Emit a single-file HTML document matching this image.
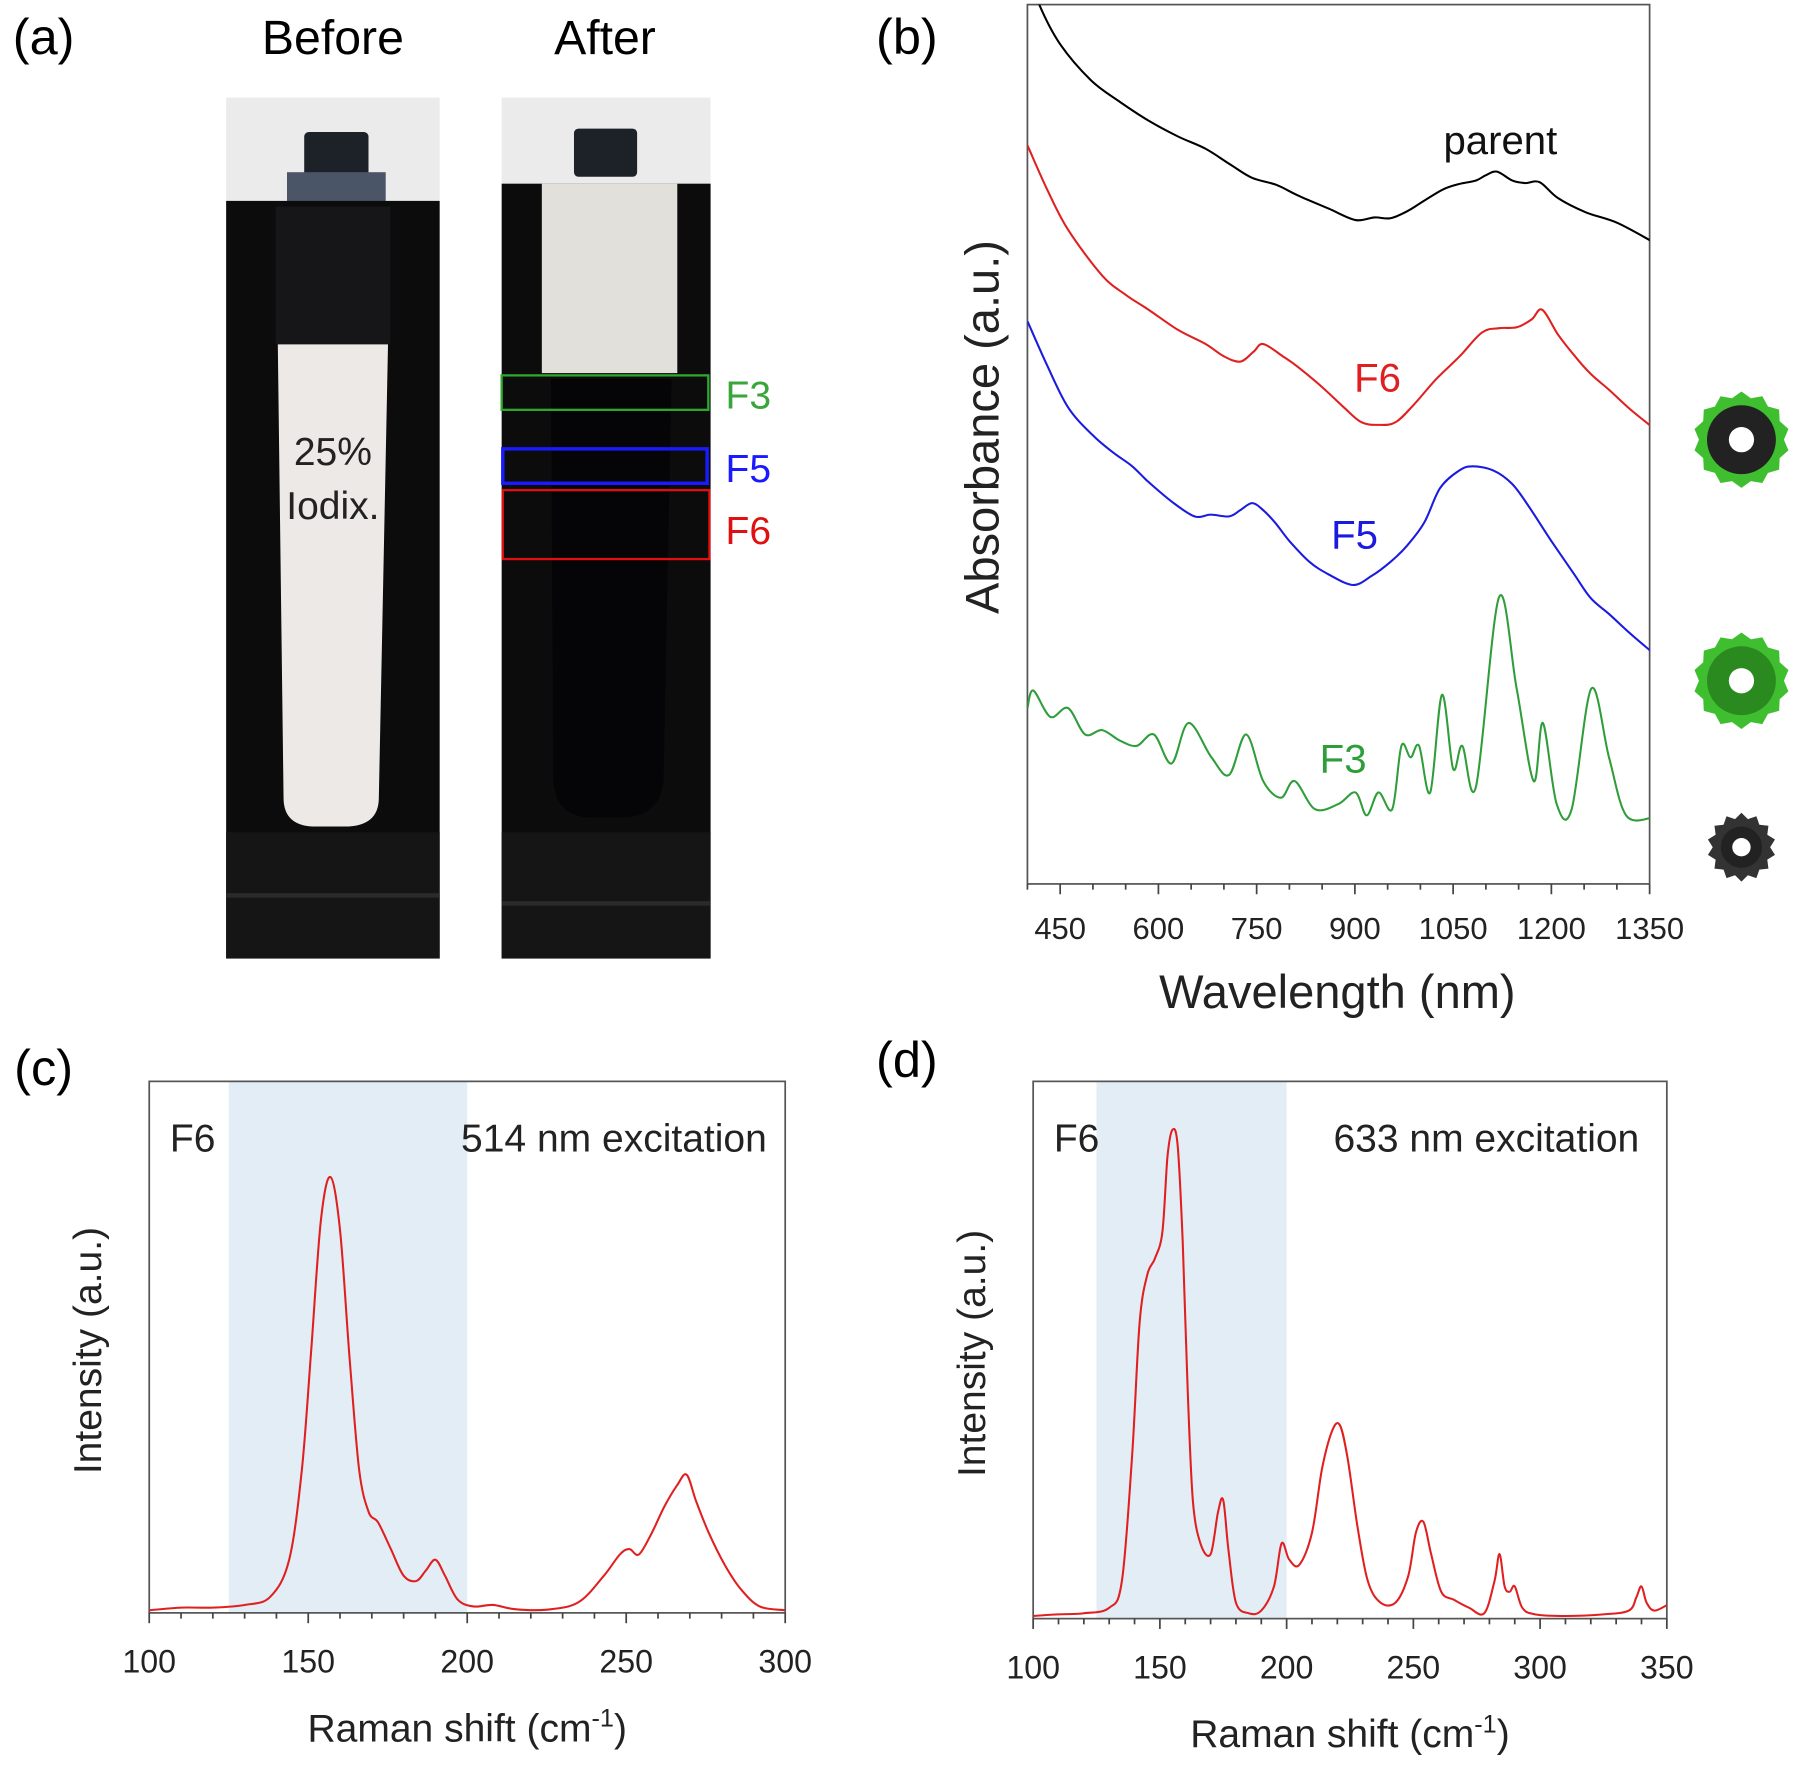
<!DOCTYPE html>
<html><head><meta charset="utf-8"><title>Figure</title>
<style>
html,body{margin:0;padding:0;background:#fff}
svg{display:block}
text{font-family:"Liberation Sans",Arial,sans-serif}
</style></head>
<body>
<svg id="fig" width="1800" height="1769" viewBox="0 0 1568 1541" xmlns="http://www.w3.org/2000/svg">
<rect width="1568" height="1541" fill="#fff"/>
<g>
  <text x="38" y="47" font-size="44" text-anchor="middle">(a)</text>
  <text x="290" y="47" font-size="42" text-anchor="middle">Before</text>
  <text x="527" y="47" font-size="42" text-anchor="middle">After</text>
  <g>
    <rect x="197" y="85" width="186" height="750" fill="#ebebeb"/>
    <rect x="265" y="115" width="56" height="40" rx="4" fill="#1d2128"/>
    <rect x="250" y="150" width="86" height="30" fill="#4a5668"/>
    <rect x="197" y="175" width="186" height="660" fill="#0c0c0c"/>
    <rect x="240" y="180" width="100" height="120" fill="#161618"/>
    <path d="M242 300 H338 L330 695 Q330 720 300 720 H275 Q247 720 247 695 Z" fill="#ece9e6"/>
    <rect x="197" y="725" width="186" height="110" fill="#151515"/>
    <rect x="197" y="778" width="186" height="4" fill="#2a2a2a"/>
    <text x="290" y="405" font-size="34" text-anchor="middle" fill="#222">25%</text>
    <text x="290" y="452" font-size="34" text-anchor="middle" fill="#222">Iodix.</text>
  </g>
  <g>
    <rect x="437" y="85" width="182" height="750" fill="#ebebeb"/>
    <rect x="500" y="112" width="55" height="42" rx="4" fill="#1d2128"/>
    <rect x="437" y="160" width="182" height="675" fill="#0c0c0c"/>
    <rect x="472" y="160" width="118" height="165" fill="#e2e0db"/>
    <path d="M480 330 H585 L578 680 Q575 710 545 712 H512 Q484 710 482 680 Z" fill="#050507"/>
    <rect x="437" y="725" width="182" height="110" fill="#151515"/>
    <rect x="437" y="785" width="182" height="4" fill="#2a2a2a"/>
    <rect x="437" y="327" width="180" height="30" fill="none" stroke="#2ea82e" stroke-width="2"/>
    <rect x="438" y="391" width="178" height="30" fill="none" stroke="#1a1aff" stroke-width="3"/>
    <rect x="438" y="427" width="180" height="60" fill="none" stroke="#e01010" stroke-width="2"/>
  </g>
  <text x="632" y="356" font-size="34" fill="#3aa53a">F3</text>
  <text x="632" y="420" font-size="34" fill="#1a1aff">F5</text>
  <text x="632" y="474" font-size="34" fill="#e01010">F6</text>
</g>
<text x="790" y="47" font-size="44" text-anchor="middle">(b)</text>
<text x="38" y="945" font-size="44" text-anchor="middle">(c)</text>
<text x="790" y="938" font-size="44" text-anchor="middle">(d)</text>
<g id="plots"></g>
<g id="icons"></g>
</svg>
<script>
// ---------- Data ----------
const parentWl = [400,418,450,497,540,585,630,672,710,743,780,813,860,901,930,954,980,1006,1035,1059,1085,1100,1117,1140,1160,1182,1210,1252,1300,1353];
const absParent = [1.04,1.0,0.955,0.914,0.89,0.868,0.85,0.836,0.818,0.803,0.795,0.783,0.768,0.755,0.758,0.757,0.765,0.777,0.79,0.796,0.8,0.806,0.81,0.8,0.797,0.798,0.78,0.764,0.752,0.731];
const f6Wl = [400,430,462,514,550,585,630,672,700,725,745,760,790,813,850,883,910,936,962,990,1024,1060,1094,1120,1147,1170,1186,1210,1235,1260,1288,1320,1353];
const absF6 = [0.84,0.79,0.744,0.692,0.67,0.653,0.63,0.614,0.6,0.594,0.605,0.614,0.6,0.588,0.565,0.542,0.525,0.522,0.525,0.545,0.574,0.6,0.627,0.632,0.633,0.642,0.653,0.625,0.601,0.58,0.562,0.54,0.52];
const f5Wl = [400,430,462,500,532,560,585,620,655,680,708,725,743,760,778,800,831,860,897,925,954,980,1006,1030,1059,1080,1112,1140,1164,1200,1235,1260,1288,1320,1353];
const absF5 = [0.64,0.59,0.542,0.51,0.49,0.475,0.457,0.435,0.418,0.42,0.418,0.425,0.433,0.425,0.411,0.39,0.366,0.352,0.34,0.35,0.366,0.385,0.411,0.45,0.47,0.475,0.47,0.455,0.431,0.39,0.352,0.325,0.307,0.285,0.264];
const f3Wl = [400,409,435,462,488,514,541,567,593,620,646,681,708,734,760,787,808,839,875,901,918,936,957,971,985,998,1015,1033,1050,1064,1085,1120,1147,1173,1187,1208,1231,1261,1288,1314,1353];
const absF3 = [0.2,0.22,0.19,0.2,0.17,0.175,0.163,0.157,0.17,0.137,0.183,0.144,0.124,0.17,0.117,0.098,0.117,0.085,0.091,0.104,0.078,0.104,0.085,0.157,0.144,0.157,0.104,0.215,0.131,0.157,0.111,0.326,0.222,0.117,0.183,0.091,0.085,0.222,0.144,0.078,0.075];
const absTicks = [450,600,750,900,1050,1200,1350];
const ramanCShift = [100,110,120,130,138,144,148,151,154,157,160,163,166,169,172,176,180,184,187,190,193,197,202,208,215,225,235,243,248,251,254,258,262,266,269,272,276,281,286,292,300];
const ramanCInt = [0.005,0.01,0.01,0.015,0.03,0.1,0.27,0.5,0.74,0.82,0.72,0.48,0.27,0.19,0.17,0.12,0.07,0.06,0.08,0.1,0.07,0.025,0.012,0.015,0.007,0.006,0.02,0.07,0.11,0.12,0.11,0.15,0.2,0.24,0.26,0.21,0.15,0.09,0.045,0.012,0.005];
const ramanDShift = [100,110,120,130,135,139,142,145,148,151,153,155,157,159,161,163,166,170,173,175,177,180,185,190,195,198,201,205,210,214,218,221,224,228,232,237,243,248,251,254,257,261,266,272,278,282,284,286,288,290,293,298,310,325,335,338,340,342,345,350];
const ramanDInt = [0.005,0.008,0.01,0.02,0.07,0.3,0.55,0.64,0.67,0.72,0.86,0.91,0.88,0.7,0.42,0.22,0.14,0.12,0.2,0.22,0.13,0.03,0.01,0.015,0.06,0.14,0.11,0.1,0.16,0.28,0.35,0.36,0.3,0.17,0.07,0.03,0.03,0.08,0.16,0.18,0.12,0.05,0.035,0.02,0.01,0.07,0.12,0.06,0.05,0.06,0.02,0.008,0.005,0.008,0.015,0.04,0.06,0.03,0.015,0.025];
const ramanCTicks = [100,150,200,250,300];
const ramanDTicks = [100,150,200,250,300,350];

const NS = "http://www.w3.org/2000/svg";
const plots = document.getElementById('plots');
function mk(tag, attrs, parent){const e=document.createElementNS(NS,tag);for(const k in attrs)e.setAttribute(k,attrs[k]);(parent||plots).appendChild(e);return e;}
function scale(d0,d1,r0,r1){return v=>r0+(v-d0)*(r1-r0)/(d1-d0);}
function smoothPath(xs,ys,sx,sy){
  const p=xs.map((x,i)=>[sx(x),sy(ys[i])]);
  let d="M"+p[0][0].toFixed(1)+" "+p[0][1].toFixed(1);
  for(let i=0;i<p.length-1;i++){
    const p0=p[i-1]||p[i],p1=p[i],p2=p[i+1],p3=p[i+2]||p2;
    const c1=[p1[0]+(p2[0]-p0[0])/6,p1[1]+(p2[1]-p0[1])/6];
    const c2=[p2[0]-(p3[0]-p1[0])/6,p2[1]-(p3[1]-p1[1])/6];
    d+=` C${c1[0].toFixed(1)} ${c1[1].toFixed(1)} ${c2[0].toFixed(1)} ${c2[1].toFixed(1)} ${p2[0].toFixed(1)} ${p2[1].toFixed(1)}`;
  }
  return d;
}
function axesFrame(L,R,T,B,name){
  const r=mk('rect',{x:L,y:T,width:R-L,height:B-T,fill:'none',stroke:'#555','stroke-width':1.5});
  
  
}
function xTicks(sx,B,minorStep,d0,d1,majors,fs,ly,name){
  for(let v=d0; v<=d1+1e-6; v+=minorStep){
    const maj=majors.includes(v);
    const t=mk('line',{x1:sx(v),x2:sx(v),y1:B,y2:B+(maj?9:5),stroke:'#444','stroke-width':1.5});
    
    
  }
  majors.forEach(v=>{
    const t=mk('text',{x:sx(v),y:ly,'font-size':fs,'text-anchor':'middle',fill:'#222'});
    t.textContent=v;
    
    
  });
}

// ---------- Panel b ----------
{
  const L=895,R=1437,T=4,B=770;
  const sx=scale(400,1350,L,R), sy=scale(0,1,B,B-766);
  axesFrame(L,R,T,B,'absorbance-plot-frame');
  const clip=mk('clipPath',{id:'cb'}); mk('rect',{x:L,y:T,width:R-L,height:B-T},clip);
  const series=[[parentWl,absParent,'#000','parent-curve'],[f6Wl,absF6,'#e02020','f6-curve'],[f5Wl,absF5,'#1a1ae0','f5-curve'],[f3Wl,absF3,'#2f9e3a','f3-curve']];
  series.forEach(s=>{
    const p=mk('path',{d:smoothPath(s[0],s[1],sx,sy),fill:'none',stroke:s[2],'stroke-width':1.8,'clip-path':'url(#cb)'});
    
    
  });
  xTicks(sx,B,50,400,1350,absTicks,27,818,'wavelength');
  const xt=mk('text',{x:1165,y:878,'font-size':41,'text-anchor':'middle',fill:'#222'}); xt.textContent='Wavelength (nm)';
  
  
  const yt=mk('text',{x:0,y:0,'font-size':41,'text-anchor':'middle',fill:'#222',transform:'translate(870,372) rotate(-90)'}); yt.textContent='Absorbance (a.u.)';
  
  
  const labs=[['parent',1307,134,'#111'],['F6',1200,341,'#e02020'],['F5',1180,478,'#1a1ae0'],['F3',1170,673,'#2f9e3a']];
  labs.forEach(l=>{
    const t=mk('text',{x:l[1],y:l[2],'font-size':35,'text-anchor':'middle',fill:l[3]}); t.textContent=l[0];
    
    
  });
}
// ---------- Raman panels ----------
function raman(L,R,T,B,d0,d1,xs,ys,ticks,label,tx,name){
  const sx=scale(d0,d1,L,R), sy=scale(0,1,B,B-(B-T));
  const sh=mk('rect',{x:sx(125),y:T,width:sx(200)-sx(125),height:B-T,fill:'#e3edf6'});
  
  
  axesFrame(L,R,T,B,name+'-frame');
  const p=mk('path',{d:smoothPath(xs,ys,sx,sy),fill:'none',stroke:'#e02020','stroke-width':1.8});
  
  
  xTicks(sx,B,10,d0,d1,ticks,28,B+52,name);
  const xt=mk('text',{x:(L+R)/2,y:B+112,'font-size':34,'text-anchor':'middle',fill:'#222'});
  xt.innerHTML='Raman shift (cm<tspan dy="-13" font-size="22">-1</tspan><tspan dy="13">)</tspan>';
  
  
  const yt=mk('text',{x:0,y:0,'font-size':34,'text-anchor':'middle',fill:'#222',transform:`translate(${L-42},${(T+B)/2+3}) rotate(-90)`}); yt.textContent='Intensity (a.u.)';
  
  
  const f=mk('text',{x:L+18,y:T+61,'font-size':34,fill:'#222'}); f.textContent='F6';
  
  
  const e=mk('text',{x:tx,y:T+61,'font-size':34,'text-anchor':'end',fill:'#222'}); e.textContent=label;
  
  
}
raman(130,684,942,1405,100,300,ramanCShift,ramanCInt,ramanCTicks,'514 nm excitation',668,'raman-514');
raman(900,1452,942,1410,100,350,ramanDShift,ramanDInt,ramanDTicks,'633 nm excitation',1428,'raman-633');

// ---------- icons ----------
const icons=document.getElementById('icons');
[[1517,383,42,'#3fbf2f','#222',11],[1517,593,42,'#3fbf2f','#2a8a20',11],[1517,738,30,'#333','#222',8]].forEach((c,i)=>{
  const g=mk('g',{},icons);
  
  
  const n=14;let d='';
  for(let k=0;k<n*2;k++){const a=k*Math.PI/n;const r=k%2?c[2]:c[2]-5;d+=(k?'L':'M')+(c[0]+r*Math.cos(a)).toFixed(1)+' '+(c[1]+r*Math.sin(a)).toFixed(1);}
  mk('path',{d:d+'Z',fill:c[3]},g);
  mk('circle',{cx:c[0],cy:c[1],r:c[2]-12,fill:c[4]},g);
  mk('circle',{cx:c[0],cy:c[1],r:c[5],fill:'#fff'},g);
});
</script>
</body></html>
